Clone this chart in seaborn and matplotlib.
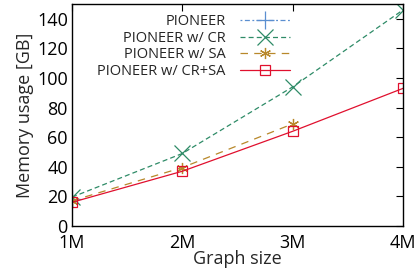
import pandas as pd
import matplotlib.pyplot as plt
import seaborn as sns

# values
sizes = [1, 2, 3, 4]
size_labels = ['1M', '2M', '3M', '4M']
pioneer = [18.0]
pioneer_cr = [19.5, 49.0, 94.0, 146.0]
pioneer_sa = [17.0, 39.5, 69.0]
pioneer_cr_sa = [16.0, 37.0, 64.0, 93.0]

series = [
    ('PIONEER', pioneer, '#5b8fd0', dict(marker='+', markersize=13, dashes=(1.5, 2, 4, 2))),
    ('PIONEER w/ CR', pioneer_cr, '#2e8b67', dict(marker='x', markersize=12, dashes=(4, 2.5))),
    ('PIONEER w/ SA', pioneer_sa, '#b8882a', dict(marker=(6, 2, 0), markersize=8, dashes=(6, 5))),
    ('PIONEER w/ CR+SA', pioneer_cr_sa, '#e0102e', dict(marker='s', markersize=7,
                                                        markerfacecolor='none')),
]

sns.set_style('white')
plt.rcParams['font.family'] = ['Open Sans', 'DejaVu Sans']

fig = plt.figure(figsize=(4.15, 2.79), dpi=100)
ax = fig.add_axes([0.1735, 0.19, 0.7975, 0.7955])

for name, vals, col, kw in series:
    df = pd.DataFrame({'size': sizes[:len(vals)], 'mem': vals})
    sns.lineplot(data=df, x='size', y='mem', ax=ax, label=name, linewidth=0.9,
                 color=col, markeredgecolor=col, markeredgewidth=0.9, **kw)

ax.set_xlim(1, 4)
ax.set_ylim(0, 150)
ax.set_xticks(sizes)
ax.set_xticklabels(size_labels)
ax.set_yticks(range(0, 141, 20))
ax.tick_params(direction='in', top=True, right=True, length=5, width=0.8,
               labelsize=13, pad=3, colors='black')
ax.tick_params(axis='x', pad=6)
for s in ax.spines.values():
    s.set_color('black')
    s.set_linewidth(1.0)
ax.set_xlabel('Graph size', fontsize=13, labelpad=-2)
ax.set_ylabel('Memory usage [GB]', fontsize=13, labelpad=2)

leg = ax.legend(loc='upper right', bbox_to_anchor=(0.685, 0.995), markerfirst=False,
                frameon=False, fontsize=10.5, handlelength=3.4, labelspacing=0.12,
                handletextpad=1.0, borderaxespad=0.2)

fig.savefig('out.png', dpi=100)
